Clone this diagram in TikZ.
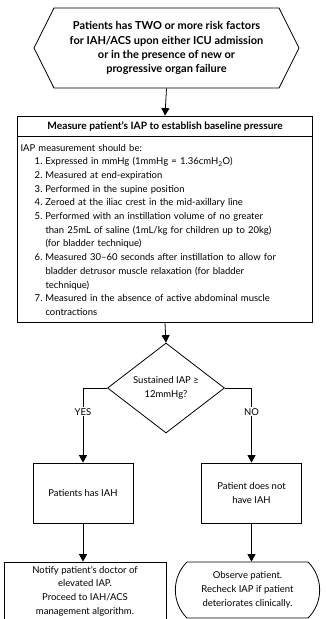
\documentclass[tikz,border=0pt]{standalone}
\usepackage{fontspec}
\setmainfont{Lato}
\usetikzlibrary{arrows.meta,shapes.geometric,shapes.symbols,shapes.misc}

% list lines inside the measurement box
\newcommand{\numitem}[1]{\makebox[22pt][r]{#1.}\hspace{3pt}}
\newcommand{\contline}{\hspace*{25pt}}

\begin{document}
\begin{tikzpicture}[
        x=1pt, y=-1pt,
        font=\fontsize{9.5}{13.7}\selectfont,
        box/.style={rectangle, draw=black, line width=0.8pt, align=center, inner sep=2pt},
        hexa/.style={signal, signal to=west and east, signal pointer angle=127, draw=black, line width=0.8pt, minimum width=265pt, minimum height=80pt, inner sep=0pt, align=center, font=\fontsize{11}{14.2}\selectfont\bfseries},
        decision/.style={diamond, draw=black, line width=0.8pt, minimum width=117pt, minimum height=90pt, inner sep=0pt, align=center},
        terminal/.style={rounded rectangle, rounded rectangle arc length=90, draw=black, line width=0.8pt, align=center},
        arrow/.style={-{Triangle[width=8pt,length=7.5pt]}, line width=0.8pt},
        answer/.style={fill=white, inner sep=1pt}
    ]
    \useasboundingbox (0,0) rectangle (325,619);

    % Entry condition
    \node[hexa] (risk) at (166.5,48) {Patients has TWO or more risk factors\\for IAH/ACS upon either ICU admission\\or in the presence of new or\\progressive organ failure};

    % Baseline measurement
    \node[box, minimum width=295pt, minimum height=20pt, font=\fontsize{10.2}{13.7}\selectfont\bfseries] (head) at (165,126) {Measure patient's IAP to establish baseline pressure};
    \node[box, anchor=north, minimum width=295pt, minimum height=186pt, text width=289pt, inner xsep=3pt, align=left] (iap) at (head.south) {IAP measurement should be:\\
        \numitem{1}Expressed in mmHg (1mmHg = 1.36cmH\textsubscript{2}O)\\
        \numitem{2}Measured at end-expiration\\
        \numitem{3}Performed in the supine position\\
        \numitem{4}Zeroed at the iliac crest in the mid-axillary line\\
        \numitem{5}Performed with an instillation volume of no greater\\
        \contline than 25mL of saline (1mL/kg for children up to 20kg)\\
        \contline (for bladder technique)\\
        \numitem{6}Measured 30--60 seconds after instillation to allow for\\
        \contline bladder detrusor muscle relaxation (for bladder\\
        \contline technique)\\
        \numitem{7}Measured in the absence of active abdominal muscle\\
        \contline contractions};

    % Decision
    \node[decision] (dec) at (166,388) {Sustained IAP ≥\\12mmHg?};

    % Outcomes
    \node[box, minimum width=100pt, minimum height=60pt] (iah) at (83,493) {Patients has IAH};
    \node[box, minimum width=100pt, minimum height=60pt] (noiah) at (251.5,493) {Patient does not\\have IAH};
    \node[box, minimum width=162pt, minimum height=58pt] (notify) at (85,591) {Notify patient's doctor of\\elevated IAP.\\Proceed to IAH/ACS\\management algorithm.};
    \node[terminal, minimum width=151pt, minimum height=56pt] (observe) at (247.5,590) {Observe patient.\\Recheck IAP if patient\\deteriorates clinically.};

    % Connectors
    \draw[arrow] (risk.south) -- (head.north);
    \draw[arrow] (iap.south) -- (dec.north);
    \draw[arrow] (dec.west) -| node[answer, pos=0.66] {YES} (iah.north);
    \draw[arrow] (dec.east) -| node[answer, pos=0.66] {NO} (noiah.north);
    \draw[arrow] (iah.south) -- (iah.south |- notify.north);
    \draw[arrow] (noiah.south) -- (noiah.south |- observe.north);

\end{tikzpicture}
\end{document}
